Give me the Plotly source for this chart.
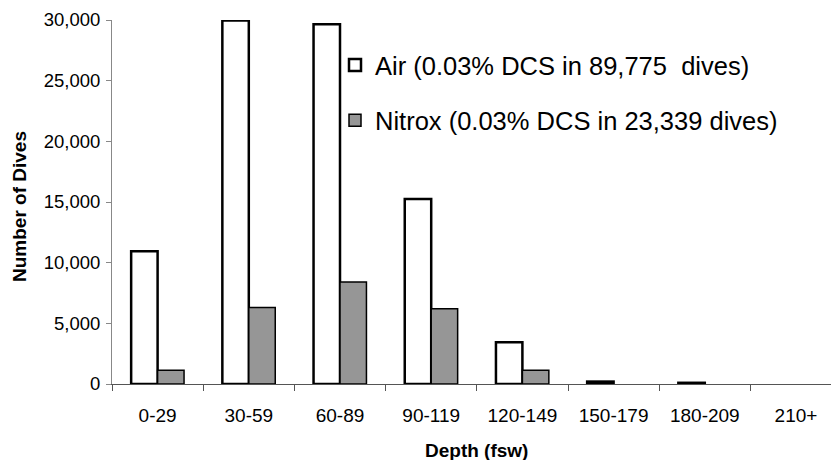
import plotly.graph_objects as go

categories = ["0-29", "30-59", "60-89", "90-119", "120-149", "150-179", "180-209", "210+"]
air_dives = [10950, 29950, 29650, 15250, 3450, 200, 100, None]
nitrox_dives = [1130, 6300, 8400, 6200, 1130, None, None, None]
y_ticks = [0, 5000, 10000, 15000, 20000, 25000, 30000]

W, H = 831, 460
L, R, T, B = 112, 0, 20, 76
pw = W - L - R
ph = H - T - B
cat_w = 91.2
x_max = -0.5 + pw / cat_w

FONT = "Liberation Sans, Arial, sans-serif"

fig = go.Figure()
fig.add_trace(go.Bar(
    x=categories, y=air_dives, name="Air (0.03% DCS in 89,775&nbsp; dives)",
    marker=dict(color="white", line=dict(color="black", width=2.5)),
    legendgroup="a",
))
fig.add_trace(go.Bar(
    x=categories, y=nitrox_dives, name="Nitrox (0.03% DCS in 23,339 dives)",
    marker=dict(color="#969696", line=dict(color="black", width=1.5)),
    legendgroup="b",
))

fig.update_layout(
    width=W, height=H,
    margin=dict(l=L, r=R, t=T, b=B, pad=0),
    paper_bgcolor="white", plot_bgcolor="white",
    font=dict(family=FONT, color="black", size=19),
    barmode="group", bargap=0.42, bargroupgap=0,
    showlegend=True,
    legend=dict(
        x=(335 - L) / pw, xanchor="left",
        y=(ph - 42 + T) / ph, yanchor="top",
        font=dict(size=25.5, family=FONT),
        bgcolor="rgba(0,0,0,0)",
        traceorder="grouped", tracegroupgap=19,
    ),
    xaxis=dict(
        type="category", range=[-0.5, x_max],
        showline=True, linecolor="#555555", linewidth=1,
        ticks="outside", tickson="boundaries", ticklen=6, tickcolor="#555555",
        tickfont=dict(size=19), showgrid=False, zeroline=False,
        ticklabelstandoff=14,
    ),
    yaxis=dict(
        range=[0, 30000], tickvals=y_ticks, tickformat=",",
        showline=True, linecolor="#888888", linewidth=1,
        ticks="outside", ticklen=5, tickcolor="#888888",
        tickfont=dict(size=18.5), showgrid=False, zeroline=False,
        ticklabelstandoff=2,
    ),
    annotations=[
        dict(text="<b>Depth (fsw)</b>", xref="paper", yref="paper",
             x=(477 - L) / pw, y=(H - 450 - B) / ph, xanchor="center", yanchor="middle",
             showarrow=False, font=dict(size=19, family=FONT)),
        dict(text="<b>Number of Dives</b>", xref="paper", yref="paper",
             x=(20 - L) / pw, y=(T + ph - 207) / ph, xanchor="center", yanchor="middle",
             textangle=-90, showarrow=False, font=dict(size=19, family=FONT)),
    ],
)

fig.write_html(
    "out.html",
    config={"displayModeBar": False},
    post_script="document.body.style.margin='0';document.body.style.padding='0';",
)
